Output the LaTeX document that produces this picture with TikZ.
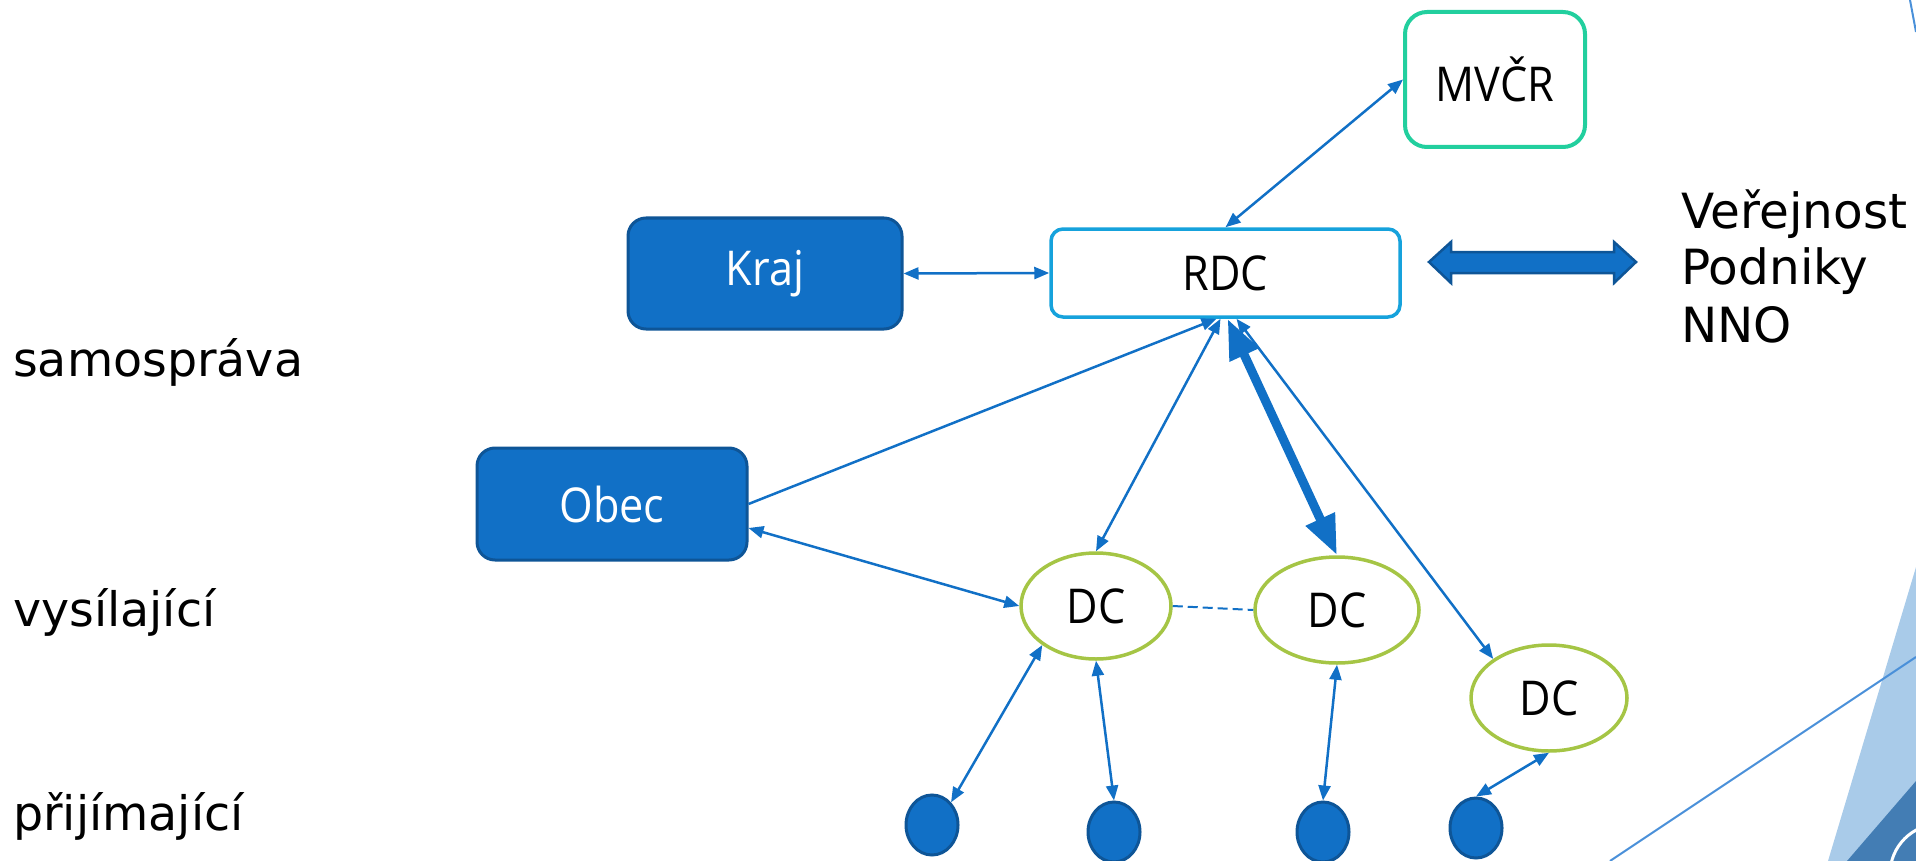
\documentclass[tikz,border=0pt]{standalone}
\usepackage{fontspec}
\setmainfont{DejaVu Sans}
\newfontfamily\nf[FakeStretch=0.9]{Open Sans}
\usetikzlibrary{arrows.meta,shapes.geometric}
\definecolor{nodeblue}{HTML}{1170C6}
\definecolor{nodeborder}{HTML}{0E5597}
\definecolor{mvcrcol}{HTML}{22CF9E}
\definecolor{rdccol}{HTML}{16A2DC}
\definecolor{dcgreen}{HTML}{A5C545}
\definecolor{lightdeco}{HTML}{A9CBE9}
\definecolor{darkdeco}{HTML}{437DB4}
\definecolor{decoline}{HTML}{4A90D9}
\begin{document}
\begin{tikzpicture}[x=1pt,y=-1pt,
  nfont/.style={font=\nf\fontsize{48}{56}\selectfont},
  lfont/.style={font=\fontsize{47.5}{57}\selectfont},
  blk/.style={rectangle, rounded corners=18pt, fill=nodeblue, draw=nodeborder, line width=3pt, text=white, nfont, inner sep=0pt},
  wbox/.style={rectangle, fill=white, line width=3.5pt, nfont, inner sep=0pt},
  dcnode/.style={ellipse, draw=dcgreen, line width=3.5pt, fill=white, inner sep=0pt, nfont},
  dot/.style={ellipse, fill=nodeblue, draw=nodeborder, line width=3pt, minimum width=52pt, minimum height=60pt, inner sep=0pt},
  lbl/.style={lfont, anchor=base west, inner sep=0pt},
  conn/.style={draw=nodeblue, line width=2.5pt, {Triangle[length=15pt,width=12pt]}-{Triangle[length=15pt,width=12pt]}},
  connone/.style={draw=nodeblue, line width=2.5pt, -{Triangle[length=15pt,width=12pt]}},
  thickconn/.style={draw=nodeblue, line width=9pt, {Triangle[length=40pt,width=30pt]}-{Triangle[length=40pt,width=30pt]}}
]
\useasboundingbox (0,0) rectangle (1916,861);

% background decoration at the right edge
\begin{scope}
  \clip (0,0) rectangle (1916,861);
  \fill[lightdeco] (1828,861) -- (1916,567) -- (1916,861) -- cycle;
  \fill[darkdeco] (1847,861) -- (1916,781) -- (1916,861) -- cycle;
  \draw[white, line width=3pt] (1940,874) circle[radius=50];
  \draw[decoline, line width=2pt] (1610,861) -- (1916,657);
  \draw[decoline, line width=2pt] (1910,0) -- (1916,32);
\end{scope}

% nodes
\node[wbox, draw=mvcrcol, line width=4pt, rounded corners=22pt, minimum width=180pt, minimum height=135pt] (mvcr) at (1495,79.5) {MVČR};
\node[wbox, draw=rdccol, rounded corners=12pt, minimum width=349pt, minimum height=88pt] (rdc) at (1225.5,273) {RDC};
\node[blk, minimum width=274pt, minimum height=111pt] (kraj) at (765,273.5) {Kraj};
\node[blk, minimum width=270pt, minimum height=112pt] (obec) at (612,504) {Obec};

\node[dcnode, minimum width=150pt, minimum height=106pt] (dc1) at (1096,606) {DC};
\node[dcnode, minimum width=164pt, minimum height=106pt] (dc2) at (1337,610) {DC};
\node[dcnode, minimum width=156pt, minimum height=106pt] (dc3) at (1549,698) {DC};

\node[dot] (c1) at (932,825) {};
\node[dot] (c2) at (1114,832) {};
\node[dot] (c3) at (1323,832) {};
\node[dot] (c4) at (1476,828) {};

% labels
\node[lbl] (samo) at (13,376) {samospráva};
\node[lbl] (vys) at (13,626) {vysílající};
\node[lbl] (prij) at (13,830) {přijímající};
\node[lbl, font=\fontsize{48.5}{57}\selectfont] (ver) at (1681,228) {Veřejnost};
\node[lbl, font=\fontsize{48.5}{57}\selectfont] (pod) at (1681,284) {Podniky};
\node[lbl, font=\fontsize{48.5}{57}\selectfont] (nno) at (1681,342) {NNO};

% block double arrow
\filldraw[fill=nodeblue, draw=nodeborder, line width=2.5pt, line join=miter]
  (1429,262) -- (1451,242) -- (1451,252) -- (1614,252) -- (1614,242) -- (1636,262)
  -- (1614,283) -- (1614,273) -- (1451,273) -- (1451,283) -- cycle;

% connectors
\draw[conn] (rdc.north) -- (mvcr.west);
\draw[conn] (kraj.east) -- (rdc.west);
\draw[connone] (obec.east) -- ([xshift=-9pt]rdc.south);
\draw[conn] ([yshift=-24pt]obec.east) -- (dc1.west);
\draw[conn] ([xshift=-5pt]rdc.south) -- (dc1.north);
\draw[thickconn] ([xshift=2pt]rdc.south) -- (dc2.north);
\draw[conn] ([xshift=11pt]rdc.south) -- (dc3.145);
\draw[draw=nodeblue, line width=2pt, dash pattern=on 10pt off 5pt] (dc1.east) -- (dc2.west);
\draw[conn] (dc1.216) -- (c1.50);
\draw[conn] (dc1.south) -- (c2.north);
\draw[conn] (dc2.south) -- (c3.north);
\draw[conn] (dc3.south) -- (c4.north);
\end{tikzpicture}
\end{document}
